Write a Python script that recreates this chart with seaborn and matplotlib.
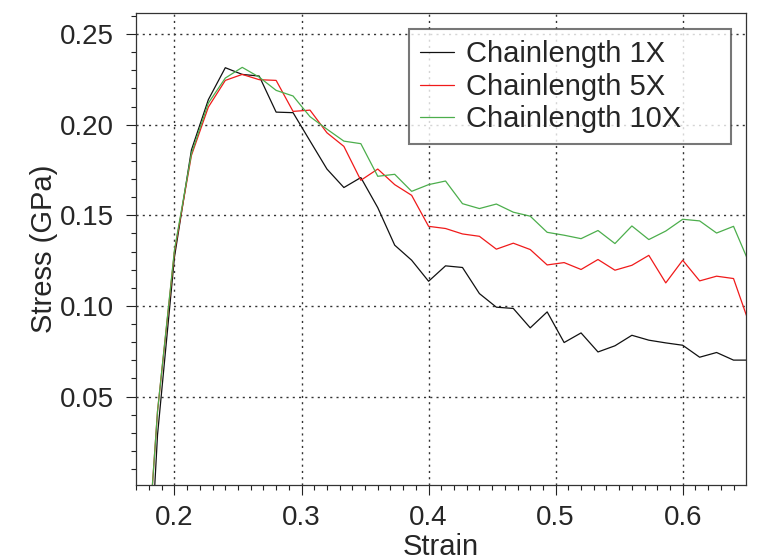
import numpy as np
import pandas as pd
import matplotlib
matplotlib.use("Agg")
import matplotlib.pyplot as plt
from matplotlib.ticker import MultipleLocator, FormatStrFormatter
import seaborn as sns

# ---- data ----
strain = [0.17333, 0.18667, 0.2, 0.21333, 0.22667, 0.24, 0.25333, 0.26667, 0.28,
          0.29333, 0.30667, 0.32, 0.33333, 0.34667, 0.36, 0.37333, 0.38667, 0.4,
          0.41333, 0.42667, 0.44, 0.45333, 0.46667, 0.48, 0.49333, 0.50667, 0.52,
          0.53333, 0.54667, 0.56, 0.57333, 0.58667, 0.6, 0.61333, 0.62667, 0.64,
          0.65333]

stress_1x = [-0.142, 0.029, 0.127, 0.186, 0.2138, 0.2314, 0.2277, 0.2268, 0.2069,
             0.2066, 0.191, 0.1755, 0.1653, 0.1708, 0.1542, 0.1335, 0.1252, 0.1136,
             0.1221, 0.1212, 0.1068, 0.0993, 0.0986, 0.0879, 0.0967, 0.0798, 0.0851,
             0.0746, 0.0780, 0.0838, 0.0811, 0.0796, 0.0783, 0.0717, 0.0743, 0.0701,
             0.0701]

stress_5x = [-0.093, 0.042, 0.130, 0.183, 0.2097, 0.2244, 0.2277, 0.2248, 0.2244,
             0.2073, 0.2080, 0.1955, 0.1880, 0.1693, 0.1755, 0.1669, 0.1610, 0.1439,
             0.1427, 0.1397, 0.1384, 0.1313, 0.1346, 0.1311, 0.1226, 0.1239, 0.1201,
             0.1256, 0.1197, 0.1224, 0.1279, 0.1127, 0.1252, 0.1138, 0.1164, 0.1151,
             0.0884]

stress_10x = [-0.093, 0.042, 0.131, 0.184, 0.2119, 0.2257, 0.2316, 0.2262, 0.2189,
              0.2158, 0.2044, 0.1975, 0.1909, 0.1895, 0.1715, 0.1726, 0.1632, 0.1669,
              0.1689, 0.1564, 0.1537, 0.1562, 0.1517, 0.1495, 0.1406, 0.1390, 0.1371,
              0.1416, 0.1344, 0.1441, 0.1366, 0.1413, 0.1478, 0.1469, 0.1402, 0.1439,
              0.122]

series_names = ["Chainlength 1X", "Chainlength 5X", "Chainlength 10X"]
series_colors = ["#111111", "#f01a1a", "#4cae4c"]

df = pd.concat([
    pd.DataFrame({"Strain": strain, "Stress": vals, "Series": name})
    for name, vals in zip(series_names, [stress_1x, stress_5x, stress_10x])
], ignore_index=True)

# ---- style ----
sns.set_style("white")
plt.rcParams["font.family"] = ["Liberation Sans", "DejaVu Sans"]

fig = plt.figure(figsize=(7.57, 5.6), dpi=100)
ax = fig.add_axes([0.1793, 0.1339, 0.8058, 0.8423])

sns.lineplot(data=df, x="Strain", y="Stress", hue="Series",
             palette=dict(zip(series_names, series_colors)),
             hue_order=series_names, sort=False, estimator=None,
             linewidth=0.9, ax=ax)

ax.set_xlim(0.1695, 0.6496)
ax.set_ylim(0.0012, 0.2614)

ax.xaxis.set_major_locator(MultipleLocator(0.1))
ax.xaxis.set_minor_locator(MultipleLocator(0.01))
ax.yaxis.set_major_locator(MultipleLocator(0.05))
ax.yaxis.set_minor_locator(MultipleLocator(0.01))
ax.xaxis.set_major_formatter(FormatStrFormatter("%.1f"))
ax.yaxis.set_major_formatter(FormatStrFormatter("%.2f"))

ax.tick_params(which="major", direction="out", length=7, width=0.8,
               color="#222222", labelsize=20,
               bottom=True, left=True, top=False, right=False)
ax.tick_params(axis="x", which="major", pad=7.5)
ax.tick_params(axis="y", which="major", pad=9)
ax.tick_params(which="minor", direction="out", length=3.5, width=0.8,
               color="#222222", bottom=True, left=True, top=False, right=False)

ax.grid(True, which="major", color="#333333", linestyle=(0, (1.5, 3)),
        linewidth=1.0)

for sp in ax.spines.values():
    sp.set_visible(True)
    sp.set_color("#333333")
    sp.set_linewidth(0.9)

ax.set_xlabel("Strain", fontsize=21, labelpad=1.5)
ax.set_ylabel("Stress (GPa)", fontsize=21, labelpad=1)

leg = ax.legend(loc="upper left", bbox_to_anchor=(0.4485, 0.7257, 0.5274, 0.2404),
                mode="expand", borderaxespad=0, fontsize=21, frameon=True,
                fancybox=False, handlelength=1.15, handletextpad=0.42,
                borderpad=0.38, labelspacing=0.15, title=None)
leg.get_frame().set_edgecolor("#555555")
leg.get_frame().set_linewidth(1.5)
for line in leg.get_lines():
    line.set_linewidth(0.9)

fig.savefig("out.png", dpi=100)
